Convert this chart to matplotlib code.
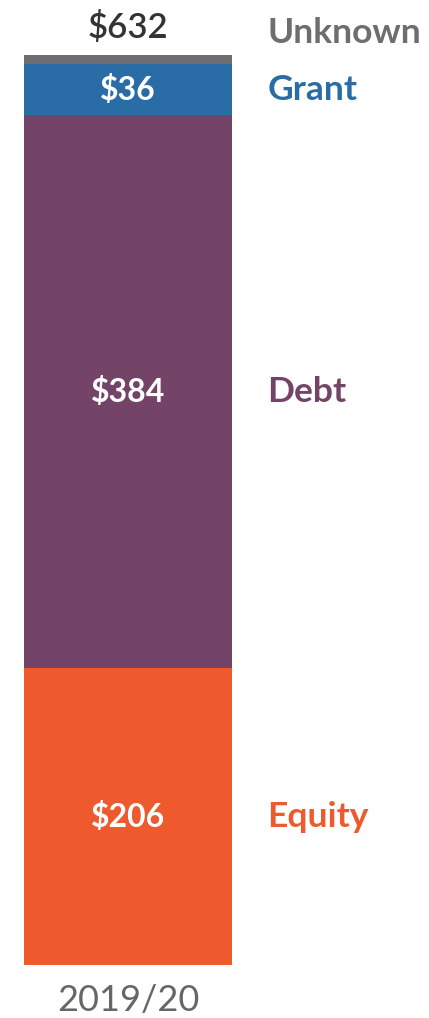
"""Stacked funding bar for 2019/20."""

import matplotlib.pyplot as plt

categories = ["Equity", "Debt", "Grant", "Unknown"]
values = [206, 384, 36, 6]
colors = ["#ee5a2e", "#744468", "#2a6ca5", "#6d6e71"]
label_colors = ["#ee5a2e", "#744468", "#2a6ca5", "#6d6e71"]
period = "2019/20"
total = sum(values)

plt.rcParams["font.family"] = ["Lato", "DejaVu Sans"]

fig = plt.figure(figsize=(4.29, 10.18), dpi=100)
ax = fig.add_axes([24 / 429, 53 / 1018, 208 / 429, 910 / 1018])
ax.set_xlim(-0.5, 0.5)
ax.set_ylim(0, total)
ax.axis("off")

bottom = 0
for cat, val, col, lcol in zip(categories, values, colors, label_colors):
    ax.bar(0, val, width=1.0, bottom=bottom, color=col, linewidth=0)
    mid = bottom + val / 2
    if cat != "Unknown":
        ax.text(0, mid, f"${val}", ha="center", va="center",
                color="white", fontsize=23, fontweight="bold")
        ax.text(1.17, mid, cat, transform=ax.get_yaxis_transform(),
                ha="left", va="center", color=lcol, fontsize=25.5,
                fontweight="bold", clip_on=False)
    bottom += val

# total above the bar, unknown label beside it
ax.text(0, total + 19, f"${total}", ha="center", va="center",
        color="#333333", fontsize=25, fontweight="semibold", clip_on=False)
ax.text(1.17, total + 15, "Unknown", transform=ax.get_yaxis_transform(),
        ha="left", va="center", color=label_colors[3], fontsize=25.5,
        fontweight="bold", clip_on=False)

ax.text(0, -25, period, ha="center", va="center", color="#666666",
        fontsize=26, clip_on=False)

fig.savefig("out.png", dpi=100, facecolor="white")
